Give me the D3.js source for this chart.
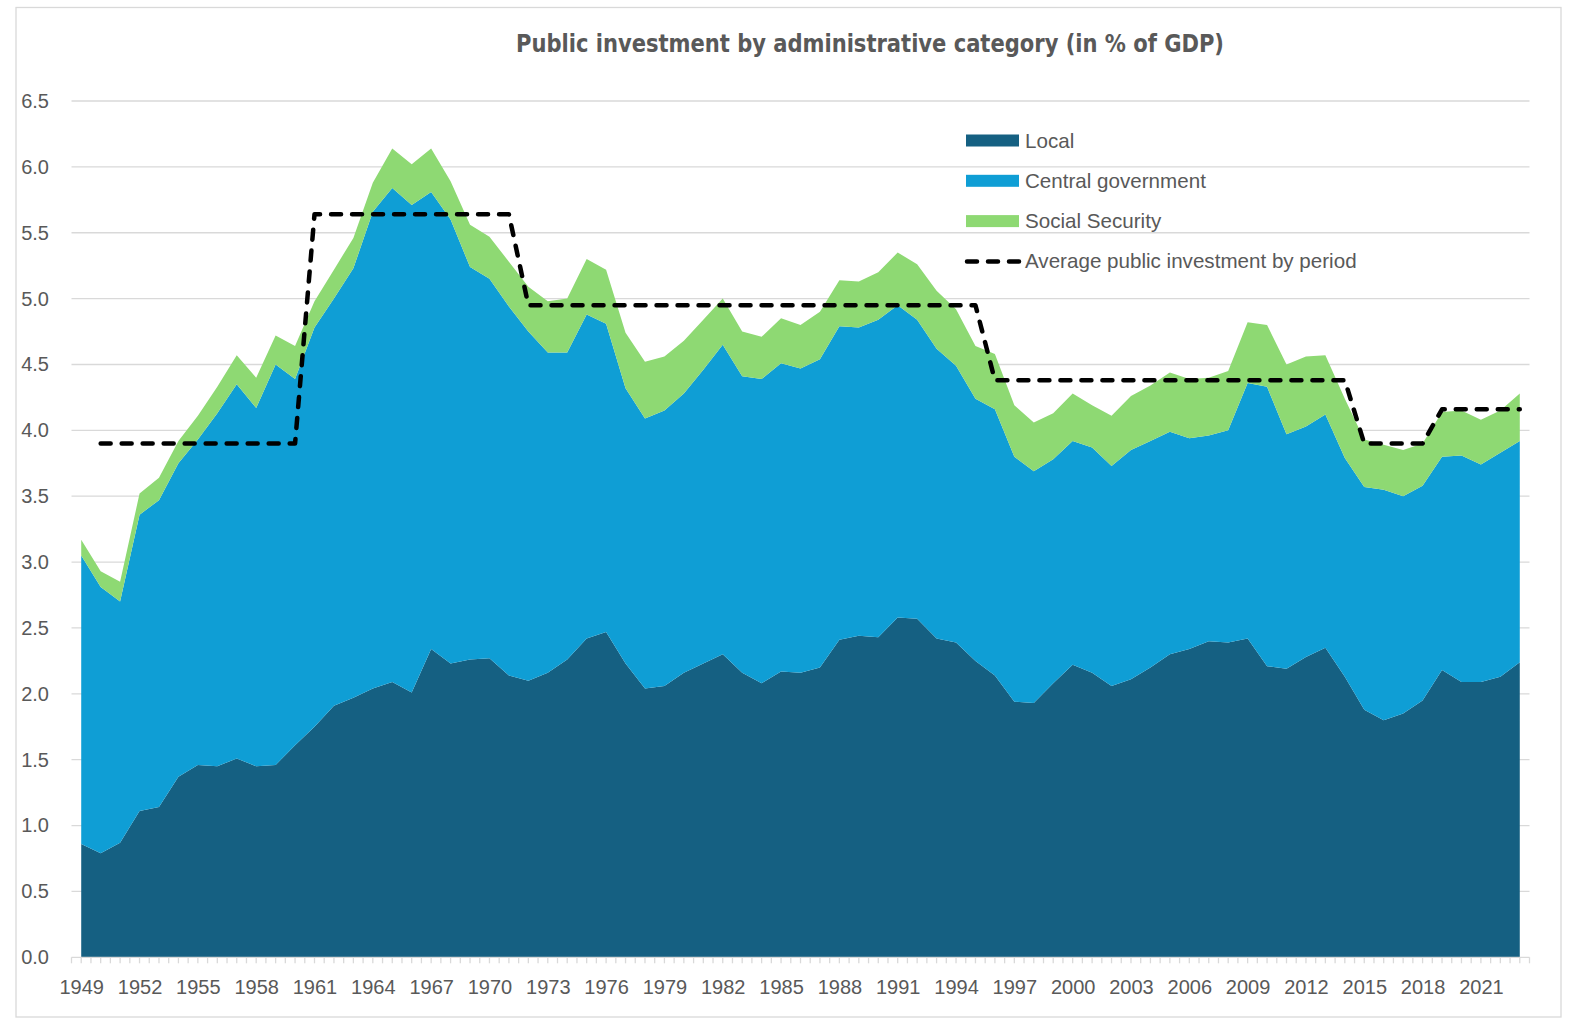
<!DOCTYPE html>
<html>
<head>
<meta charset="utf-8">
<script src="https://cdn.jsdelivr.net/npm/d3@7"></script>
<style>
	body { margin: 0; background: #fff; }
	svg { display: block; }
</style>
</head>
<body>
<svg id="chart" width="1569" height="1030"></svg>
<script>

const TITLE = "Public investment by administrative category (in % of GDP)";

const YEARS = [
	1949, 1950, 1951, 1952, 1953, 1954, 1955, 1956, 1957, 1958,
	1959, 1960, 1961, 1962, 1963, 1964, 1965, 1966, 1967, 1968,
	1969, 1970, 1971, 1972, 1973, 1974, 1975, 1976, 1977, 1978,
	1979, 1980, 1981, 1982, 1983, 1984, 1985, 1986, 1987, 1988,
	1989, 1990, 1991, 1992, 1993, 1994, 1995, 1996, 1997, 1998,
	1999, 2000, 2001, 2002, 2003, 2004, 2005, 2006, 2007, 2008,
	2009, 2010, 2011, 2012, 2013, 2014, 2015, 2016, 2017, 2018,
	2019, 2020, 2021, 2022, 2023
];

const LOCAL = [
	0.86, 0.79, 0.87, 1.11, 1.14, 1.37, 1.46, 1.45, 1.51, 1.45,
	1.46, 1.61, 1.75, 1.91, 1.97, 2.04, 2.09, 2.01, 2.34, 2.23,
	2.26, 2.27, 2.14, 2.10, 2.16, 2.26, 2.42, 2.47, 2.23, 2.04,
	2.06, 2.16, 2.23, 2.30, 2.16, 2.08, 2.17, 2.16, 2.20, 2.41,
	2.44, 2.43, 2.58, 2.57, 2.42, 2.39, 2.25, 2.14, 1.94, 1.93,
	2.08, 2.22, 2.16, 2.06, 2.11, 2.20, 2.30, 2.34, 2.40, 2.39,
	2.42, 2.21, 2.19, 2.28, 2.35, 2.13, 1.88, 1.80, 1.85, 1.95,
	2.18, 2.09, 2.09, 2.13, 2.24
];

const CENTRAL = [
	2.19, 2.02, 1.83, 2.25, 2.33, 2.38, 2.47, 2.68, 2.84, 2.72,
	3.04, 2.78, 3.03, 3.09, 3.26, 3.62, 3.75, 3.70, 3.47, 3.37,
	2.98, 2.88, 2.80, 2.65, 2.43, 2.33, 2.46, 2.34, 2.09, 2.05,
	2.09, 2.12, 2.23, 2.35, 2.25, 2.31, 2.34, 2.31, 2.34, 2.38,
	2.34, 2.41, 2.37, 2.27, 2.20, 2.10, 1.99, 2.02, 1.86, 1.76,
	1.70, 1.70, 1.71, 1.67, 1.74, 1.72, 1.69, 1.60, 1.56, 1.61,
	1.94, 2.12, 1.78, 1.75, 1.77, 1.66, 1.69, 1.75, 1.65, 1.63,
	1.62, 1.72, 1.65, 1.70, 1.68
];

const SOCIAL_SECURITY = [
	0.12, 0.12, 0.15, 0.16, 0.17, 0.17, 0.18, 0.20, 0.22, 0.23,
	0.22, 0.25, 0.20, 0.22, 0.23, 0.22, 0.30, 0.31, 0.33, 0.29,
	0.32, 0.32, 0.34, 0.34, 0.39, 0.41, 0.42, 0.41, 0.42, 0.43,
	0.41, 0.40, 0.38, 0.35, 0.34, 0.32, 0.34, 0.33, 0.36, 0.35,
	0.35, 0.36, 0.40, 0.42, 0.44, 0.43, 0.40, 0.42, 0.39, 0.37,
	0.35, 0.36, 0.32, 0.38, 0.41, 0.42, 0.45, 0.45, 0.44, 0.45,
	0.46, 0.47, 0.53, 0.53, 0.45, 0.45, 0.36, 0.34, 0.35, 0.32,
	0.34, 0.34, 0.34, 0.32, 0.36
];

// average by period, no value for 1949
const PERIOD_AVERAGE = [
	null, 3.90, 3.90, 3.90, 3.90, 3.90, 3.90, 3.90, 3.90, 3.90,
	3.90, 3.90, 5.64, 5.64, 5.64, 5.64, 5.64, 5.64, 5.64, 5.64,
	5.64, 5.64, 5.64, 4.95, 4.95, 4.95, 4.95, 4.95, 4.95, 4.95,
	4.95, 4.95, 4.95, 4.95, 4.95, 4.95, 4.95, 4.95, 4.95, 4.95,
	4.95, 4.95, 4.95, 4.95, 4.95, 4.95, 4.95, 4.38, 4.38, 4.38,
	4.38, 4.38, 4.38, 4.38, 4.38, 4.38, 4.38, 4.38, 4.38, 4.38,
	4.38, 4.38, 4.38, 4.38, 4.38, 4.38, 3.90, 3.90, 3.90, 3.90,
	4.16, 4.16, 4.16, 4.16, 4.16
];

const SERIES_KEYS = ["Local", "Central government", "Social Security"];
const SERIES_COLORS = ["#156082", "#0f9ed5", "#8ed973"];
const AVERAGE_LABEL = "Average public investment by period";

const Y_TICKS = [0, 0.5, 1, 1.5, 2, 2.5, 3, 3.5, 4, 4.5, 5, 5.5, 6, 6.5];
const X_LABEL_EVERY = 3;

const PLOT = { left: 71.5, right: 1529.5, top: 101, bottom: 957.3 };
const TEXT_COLOR = "#595959";
const GRID_COLOR = "#d9d9d9";
const FONT = "'Liberation Sans', Arial, sans-serif";

const svg = d3.select("#chart");

// chart frame
svg.append("rect")
	.attr("x", 16).attr("y", 7.5)
	.attr("width", 1545).attr("height", 1009.5)
	.attr("fill", "#fff")
	.attr("stroke", GRID_COLOR)
	.attr("stroke-width", 1.3);

const x = d3.scalePoint().domain(YEARS).range([PLOT.left, PLOT.right]).padding(0.5);
const y = d3.scaleLinear().domain([0, 6.5]).range([PLOT.bottom, PLOT.top]);

// gridlines
svg.append("g")
	.selectAll("line")
	.data(Y_TICKS.filter(d => d > 0))
	.join("line")
	.attr("x1", PLOT.left).attr("x2", PLOT.right)
	.attr("y1", d => y(d)).attr("y2", d => y(d))
	.attr("stroke", GRID_COLOR)
	.attr("stroke-width", 1.3);

// stacked areas
const table = YEARS.map((yr, i) => ({
	year: yr,
	"Local": LOCAL[i],
	"Central government": CENTRAL[i],
	"Social Security": SOCIAL_SECURITY[i]
}));

const stacked = d3.stack().keys(SERIES_KEYS)(table);

const area = d3.area()
	.x(d => x(d.data.year))
	.y0(d => y(d[0]))
	.y1(d => y(d[1]));

svg.append("g")
	.selectAll("path")
	.data(stacked)
	.join("path")
	.attr("fill", (d, i) => SERIES_COLORS[i])
	.attr("d", area);

// x axis: line, ticks every half category, labels every 3 years
const step = x.step();
const xAxis = d3.axisBottom(x)
	.tickValues(YEARS.filter((yr, i) => i % X_LABEL_EVERY === 0))
	.tickSize(0)
	.tickPadding(23);

const gx = svg.append("g")
	.attr("transform", `translate(0,${PLOT.bottom})`)
	.call(xAxis);
gx.select(".domain").remove();
gx.selectAll("text")
	.attr("fill", TEXT_COLOR)
	.attr("font-family", FONT)
	.attr("font-size", 20);

svg.append("line")
	.attr("x1", PLOT.left).attr("x2", PLOT.right)
	.attr("y1", PLOT.bottom).attr("y2", PLOT.bottom)
	.attr("stroke", GRID_COLOR)
	.attr("stroke-width", 1.3);

const halfTicks = d3.range(YEARS.length * 2 + 1).map(k => PLOT.left + k * step / 2);
svg.append("g")
	.selectAll("line")
	.data(halfTicks)
	.join("line")
	.attr("x1", d => d).attr("x2", d => d)
	.attr("y1", PLOT.bottom).attr("y2", PLOT.bottom + 6)
	.attr("stroke", GRID_COLOR)
	.attr("stroke-width", 1.3);

// y axis labels
const yAxis = d3.axisLeft(y)
	.tickValues(Y_TICKS)
	.tickFormat(d3.format(".1f"))
	.tickSize(0)
	.tickPadding(0);

const gy = svg.append("g")
	.attr("transform", "translate(49,0)")
	.call(yAxis);
gy.select(".domain").remove();
gy.selectAll("text")
	.attr("fill", TEXT_COLOR)
	.attr("font-family", FONT)
	.attr("font-size", 20);

// period average, dashed
const avgLine = d3.line()
	.defined(d => d.v !== null)
	.x(d => x(d.year))
	.y(d => y(d.v));

svg.append("path")
	.datum(YEARS.map((yr, i) => ({ year: yr, v: PERIOD_AVERAGE[i] })))
	.attr("fill", "none")
	.attr("stroke", "#000")
	.attr("stroke-width", 4.5)
	.attr("stroke-dasharray", "10,11")
	.attr("stroke-linecap", "round")
	.attr("stroke-linejoin", "round")
	.attr("d", avgLine);

// title
svg.append("text")
	.attr("x", 870).attr("y", 52)
	.attr("text-anchor", "middle")
	.attr("fill", TEXT_COLOR)
	.attr("font-family", "'Liberation Sans Narrow', 'DejaVu Sans Condensed', sans-serif")
	.attr("font-weight", "bold")
	.attr("font-size", 25)
	.attr("textLength", 708)
	.attr("lengthAdjust", "spacingAndGlyphs")
	.text(TITLE);

// legend
const legend = svg.append("g").attr("transform", "translate(966,140.5)");
const legendRows = SERIES_KEYS.concat([AVERAGE_LABEL]);

legendRows.forEach((label, i) => {
	const row = legend.append("g").attr("transform", `translate(0,${i * 40.3})`);
	if (i < SERIES_KEYS.length) {
		row.append("rect")
			.attr("x", 0).attr("y", -6)
			.attr("width", 53).attr("height", 12)
			.attr("fill", SERIES_COLORS[i]);
	} else {
		row.append("line")
			.attr("x1", 1).attr("x2", 53)
			.attr("y1", 0).attr("y2", 0)
			.attr("stroke", "#000")
			.attr("stroke-width", 4.5)
			.attr("stroke-dasharray", "10,11")
			.attr("stroke-linecap", "round");
	}
	row.append("text")
		.attr("x", 59).attr("y", 7)
		.attr("fill", TEXT_COLOR)
		.attr("font-family", FONT)
		.attr("font-size", 20.6)
		.text(label);
});

</script>
</body>
</html>
